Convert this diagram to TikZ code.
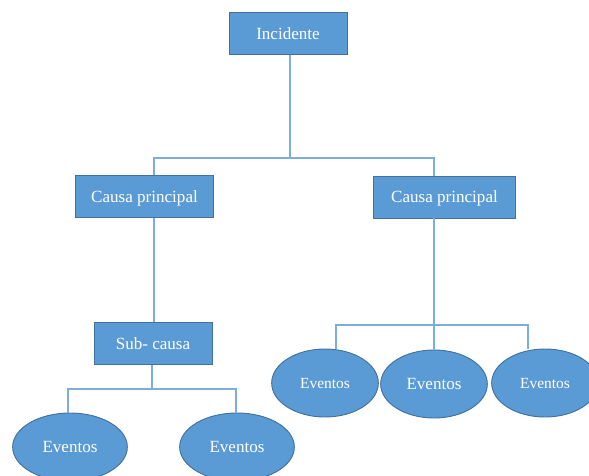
\documentclass[tikz,border=0pt]{standalone}
\usepackage{fontspec}
\setmainfont{Liberation Serif}
\usetikzlibrary{shapes.geometric}
\definecolor{boxblue}{RGB}{91,155,213}
\definecolor{edgeblue}{RGB}{65,113,156}
\definecolor{wireblue}{RGB}{125,172,222}

\begin{document}
\begin{tikzpicture}[x=0.75pt,y=-0.75pt,
  box/.style={draw=edgeblue,fill=boxblue,text=white,line width=0.7pt,inner sep=0pt,
    text depth=0pt,font=\fontsize{12.8}{15}\selectfont},
  ev/.style={box,ellipse,minimum width=80pt,minimum height=51pt},
  wire/.style={draw=wireblue,line width=0.8pt}]
\clip (0,0) rectangle (589,475);
% boxes
\node[box,minimum width=88.5pt,minimum height=31pt] (inc) at (288,33.5) {Incidente};
\node[box,minimum width=103pt,minimum height=32pt] (cpl) at (144.5,196.5) {Causa principal};
\node[box,minimum width=106pt,minimum height=31.5pt] (cpr) at (444.5,197) {Causa principal};
\node[box,minimum width=88.5pt,minimum height=31pt] (sub) at (153,343.5) {Sub- causa};
% eventos
\node[ev,minimum width=86pt] (e1) at (70,447) {Eventos};
\node[ev,minimum width=86pt] (e2) at (237,447) {Eventos};
\node[ev,font=\fontsize{11.6}{14}\selectfont] (r1) at (325,383) {Eventos};
\node[ev] (r2) at (434,384) {Eventos};
\node[ev,font=\fontsize{11.6}{14}\selectfont] (r3) at (545,383) {Eventos};
% junctions
\coordinate (ta) at (290,158);
\coordinate (tl) at (154,158);
\coordinate (tr) at (434,158);
\coordinate (sa) at (152,389);
\coordinate (sl) at (68,389);
\coordinate (sr) at (236,389);
\coordinate (ra) at (434,325);
\coordinate (rl) at (336,325);
\coordinate (rr) at (528,325);
% lines
\draw[wire] (inc.south -| ta) -- (ta);
\draw[wire] (tl |- cpl.north) -- (tl) -- (tr) -- (tr |- cpr.north);
\draw[wire] (cpl.south -| tl) -- (tl |- sub.north);
\draw[wire] (sub.south -| sa) -- (sa);
\draw[wire] (sl |- e1.north) -- (sl) -- (sr) -- (sr |- e2.north);
\draw[wire] (cpr.south -| ra) -- (ra);
\draw[wire] (rl |- r1.north) -- (rl) -- (rr) -- (rr |- r3.north);
\draw[wire] (ra) -- (r2.north);
\end{tikzpicture}
\end{document}
